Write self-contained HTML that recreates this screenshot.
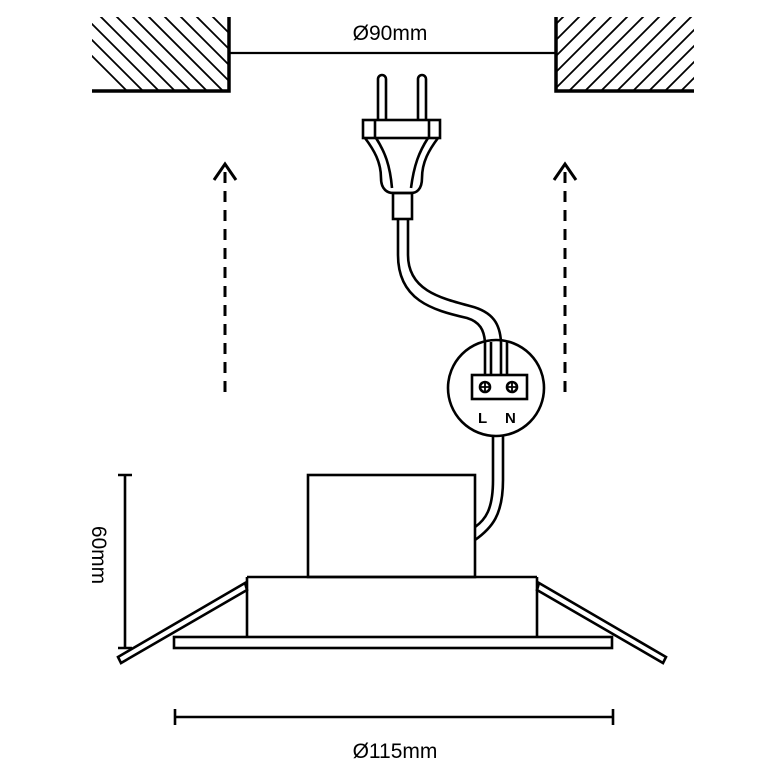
<!DOCTYPE html>
<html><head><style>html,body{margin:0;padding:0;background:#fff}svg{display:block}</style></head><body>
<svg width="783" height="783" viewBox="0 0 783 783" xmlns="http://www.w3.org/2000/svg" fill="none" stroke="#000">
<defs>
<clipPath id="cl"><rect x="92" y="17" width="137" height="74"/></clipPath>
<clipPath id="cr"><rect x="556" y="17" width="138" height="74"/></clipPath>
</defs>
<g clip-path="url(#cl)" stroke-width="1.8">
<line x1="60" y1="-40" x2="200" y2="100"/><line x1="76" y1="-40" x2="216" y2="100"/><line x1="92" y1="-40" x2="232" y2="100"/><line x1="108" y1="-40" x2="248" y2="100"/><line x1="124" y1="-40" x2="264" y2="100"/><line x1="140" y1="-40" x2="280" y2="100"/><line x1="156" y1="-40" x2="296" y2="100"/><line x1="172" y1="-40" x2="312" y2="100"/><line x1="188" y1="-40" x2="328" y2="100"/><line x1="204" y1="-40" x2="344" y2="100"/><line x1="44" y1="-40" x2="184" y2="100"/><line x1="28" y1="-40" x2="168" y2="100"/><line x1="12" y1="-40" x2="152" y2="100"/><line x1="-4" y1="-40" x2="136" y2="100"/>
</g>
<g clip-path="url(#cr)" stroke-width="1.8">
<line x1="560" y1="100" x2="700" y2="-40"/><line x1="576" y1="100" x2="716" y2="-40"/><line x1="592" y1="100" x2="732" y2="-40"/><line x1="608" y1="100" x2="748" y2="-40"/><line x1="624" y1="100" x2="764" y2="-40"/><line x1="640" y1="100" x2="780" y2="-40"/><line x1="656" y1="100" x2="796" y2="-40"/><line x1="672" y1="100" x2="812" y2="-40"/><line x1="544" y1="100" x2="684" y2="-40"/><line x1="528" y1="100" x2="668" y2="-40"/><line x1="512" y1="100" x2="652" y2="-40"/><line x1="496" y1="100" x2="636" y2="-40"/><line x1="480" y1="100" x2="620" y2="-40"/>
</g>
<path d="M92 91H229V17" stroke-width="3.5"/>
<path d="M694 91H556V17" stroke-width="3.5"/>
<line x1="229" y1="53" x2="556" y2="53" stroke-width="2.2"/>
<text x="390" y="40" text-anchor="middle" font-family="Liberation Sans, sans-serif" font-size="21" fill="#000" stroke="none">Ø90mm</text>
<g stroke-width="3">
<line x1="225" y1="172" x2="225" y2="400" stroke-dasharray="11 8"/>
<path d="M214 180L225 164L236 180"/>
<line x1="565" y1="172" x2="565" y2="400" stroke-dasharray="11 8"/>
<path d="M554 180L565 164L576 180"/>
</g>
<g stroke-width="2.6">
<path d="M378 120V79a4 4 0 0 1 8 0V120M418 120V79a4 4 0 0 1 8 0V120"/>
<rect x="363" y="120" width="77" height="18"/>
<line x1="375" y1="120" x2="375" y2="138"/><line x1="429" y1="120" x2="429" y2="138"/>
<path d="M365 138C374 150 381 162 381 178C381 190 388 193 393 193H411C416 193 422 190 422 178C422 162 429 150 438 138"/>
<path d="M376 138C385 152 390 165 392 188M428 138C419 152 414 165 411 188"/>
<rect x="393" y="193" width="19" height="26"/>
<path d="M398 219V255C398 300 432 310 467 318C480 322 484 330 485 342"/>
<path d="M408 219V255C408 290 440 298 470 306C494 312 500 325 501 342"/>
<circle cx="496" cy="388" r="48"/>
<path d="M485 342V375M491 342V375M501 342V375M507 342V375"/>
<rect x="472" y="375" width="55" height="24"/>
<circle cx="485" cy="387" r="5"/><path d="M480 387h10M485 382v10" stroke-width="1.8"/>
<circle cx="512" cy="387" r="5"/><path d="M507 387h10M512 382v10" stroke-width="1.8"/>
<path d="M493 436V480C493 510 485 520 475 527M503 436V480C503 515 492 528 475 540"/>
<rect x="308" y="475" width="167" height="102"/>
<path d="M247 577H537M247 577V637M537 577V637"/>
<rect x="174" y="637" width="438" height="11"/>
<path d="M245 583L118 657L121 663L247 590Z"/>
<path d="M539 583L666 657L663 663L537 590Z"/>
<path d="M125 475V648M118 475H132M118 648H132"/>
<path d="M175 717H613M175 709V725M613 709V725"/>
</g>
<text x="478" y="423" font-family="Liberation Sans, sans-serif" font-weight="bold" font-size="15" fill="#000" stroke="none">L</text>
<text x="505" y="423" font-family="Liberation Sans, sans-serif" font-weight="bold" font-size="15" fill="#000" stroke="none">N</text>
<text transform="translate(92 555) rotate(90)" text-anchor="middle" font-family="Liberation Sans, sans-serif" font-size="21" fill="#000" stroke="none">60mm</text>
<text x="395" y="758" text-anchor="middle" font-family="Liberation Sans, sans-serif" font-size="21" fill="#000" stroke="none">Ø115mm</text>
</svg>
</body></html>
